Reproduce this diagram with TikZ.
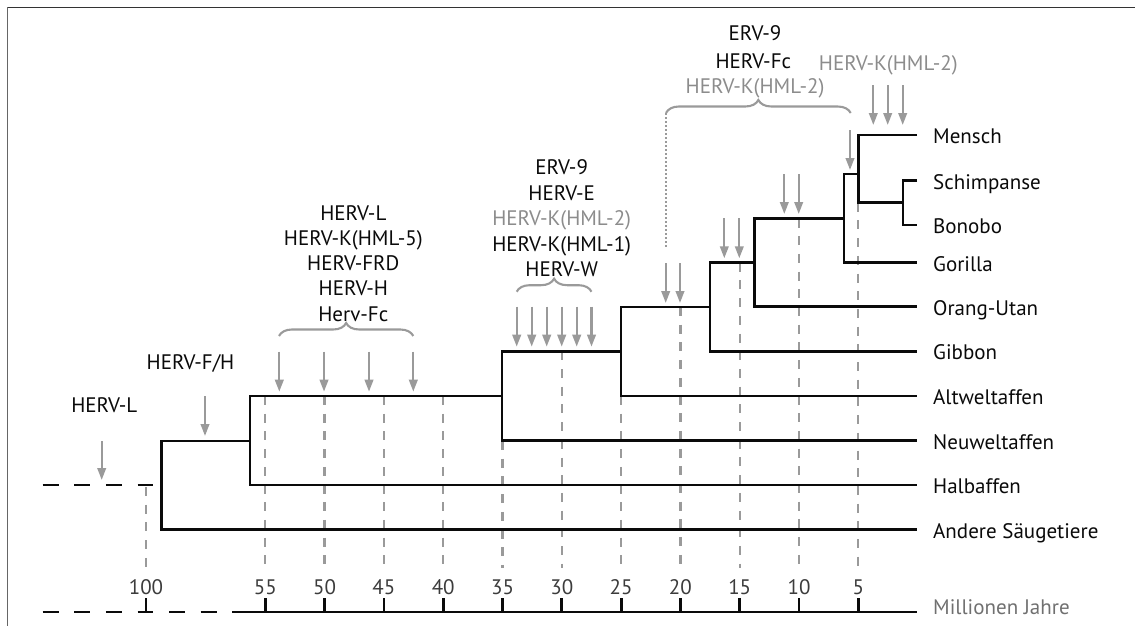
\documentclass[tikz,border=0pt]{standalone}
\usepackage{fontspec}
\setmainfont{PT Sans}
\usetikzlibrary{arrows.meta,decorations.pathreplacing}
\definecolor{arr}{HTML}{9A9A9A}
\definecolor{gtxt}{HTML}{8C8C8C}
\definecolor{ttxt}{HTML}{3C3C3C}
\definecolor{mtxt}{HTML}{707070}
\definecolor{blk}{HTML}{0A0A0A}
\begin{document}
\begin{tikzpicture}[x=1pt,y=-1pt,
  branch/.style={draw=blk,line width=2.8pt,line join=miter},
  stemline/.style={draw=blk,line width=2.8pt,dash pattern=on 15.8pt off 15.8pt},
  gridline/.style={draw=arr,line width=2.3pt,dash pattern=on 9pt off 8.7pt},
  garrow/.style={draw=arr,line width=2.3pt,-{Triangle[width=8.5pt,length=12pt]}},
  gbrace/.style={draw=arr,line width=2.1pt,decorate,decoration={brace,amplitude=13pt}},
  lbl/.style={inner sep=0pt,anchor=base,font=\fontsize{21}{25}\selectfont,text=blk},
  glbl/.style={lbl,text=gtxt},
  leaf/.style={lbl,anchor=base west},
  ticklbl/.style={lbl,text=ttxt}]
\useasboundingbox (0,0) rectangle (1135,626);
% frame
\draw[black!80,line width=1.4pt] (7.5,7.5) -- (1140,7.5);
\draw[black!60,line width=1.6pt] (7.5,7.5) -- (7.5,630);

% grid lines and axis
\foreach \t/\ytop in {55/396,50/396,45/396,40/396,35/441,30/351.3,25/396,20/307,15/262.7,10/218.5,5/202.7}{
  \pgfmathsetmacro{\xx}{858.3+(5-\t)*11.86}
  \coordinate (gt\t) at (\xx,\ytop);
  \coordinate (gb\t) at (\xx,568);
  \draw[gridline] (gt\t) -- (gb\t);
  \coordinate (ax\t) at (\xx,612);
  \coordinate (tk\t) at (\xx,598);
  \draw[draw=blk,line width=2.8pt] (ax\t) -- (tk\t);
  \node[ticklbl] (tl\t) at (\xx,594) {\t};
}
\coordinate (gt100) at (146,487);
\coordinate (gb100) at (146,568);
\draw[gridline] (gt100) -- (gb100);
\coordinate (ax100) at (146,612);
\coordinate (tk100) at (146,598);
\draw[draw=blk,line width=2.8pt] (ax100) -- (tk100);
\node[ticklbl] (tl100) at (146,594) {100};
\coordinate (axA) at (42.7,612);
\coordinate (axB) at (235,612);
\coordinate (axC) at (917,612);
\draw[stemline] (axA) -- (axB);
\draw[branch] (axB) -- (axC);
\node[leaf,text=mtxt] (mj) at (933,614.5) {Millionen Jahre};

% leaves
\coordinate (eMen) at (917,135);
\coordinate (eSch) at (917,180.7);
\coordinate (eBon) at (917,225);
\coordinate (eGor) at (917,262.7);
\coordinate (eOra) at (917,306.7);
\coordinate (eGib) at (917,351.3);
\coordinate (eAlt) at (917,396);
\coordinate (eNeu) at (917,440.7);
\coordinate (eHal) at (917,485);
\coordinate (eAnd) at (917,529.7);
\node[leaf] (lMen) at (933,143.5) {Mensch};
\node[leaf] (lSch) at (933,189) {Schimpanse};
\node[leaf] (lBon) at (933,233.5) {Bonobo};
\node[leaf] (lGor) at (933,271) {Gorilla};
\node[leaf] (lOra) at (933,315) {Orang-Utan};
\node[leaf] (lGib) at (933,359.5) {Gibbon};
\node[leaf] (lAlt) at (933,404) {Altweltaffen};
\node[leaf] (lNeu) at (933,449) {Neuweltaffen};
\node[leaf] (lHal) at (933,493.5) {Halbaffen};
\node[leaf] (lAnd) at (933,538) {Andere Säugetiere};

% internal nodes
\coordinate (cHC) at (903,202.7);
\coordinate (cH) at (858.5,174);
\coordinate (cG) at (844,218.5);
\coordinate (cO) at (754.5,262.7);
\coordinate (cGi) at (710,307);
\coordinate (c25) at (621,351.3);
\coordinate (c35) at (502,396);
\coordinate (c55) at (250,441);
\coordinate (c100) at (161.7,485);
\coordinate (sA) at (42.7,485);
\coordinate (sB) at (153.3,485);

\draw[branch] (eSch) -| (cHC) |- (eBon);
\draw[branch] (eMen) -| (cH) |- (cHC);
\draw[branch] (cH) -| (cG) |- (eGor);
\draw[branch] (cG) -| (cO) |- (eOra);
\draw[branch] (cO) -| (cGi) |- (eGib);
\draw[branch] (cGi) -| (c25) |- (eAlt);
\draw[branch] (c25) -| (c35) |- (eNeu);
\draw[branch] (c35) -| (c55) |- (eHal);
\draw[branch] (c55) -| (c100) |- (eAnd);
\draw[stemline] (sA) -- (sB);

% arrows
\foreach \x/\ya/\yb [count=\i] in {101.7/441/480, 205/396/436,
  279.3/351.7/391.7, 324/351.7/391.7, 369/351.7/391.7, 413.3/351.7/391.7,
  516.7/306.7/346.7, 531.7/306.7/346.7, 546.7/306.7/346.7, 561.7/306.7/346.7, 576.7/306.7/346.7, 591.5/306.7/346.7,
  665.7/263/303, 680/263/303,
  724.3/218.3/258.3, 739.3/218.3/258.3,
  784.3/174/214, 798.7/174/214,
  850/130/170,
  873.3/85/125, 887.7/85/125, 902.7/85/125}{
  \coordinate (as\i) at (\x,\ya);
  \coordinate (ae\i) at (\x,\yb);
  \draw[garrow] (as\i) -- (ae\i);
}

% braces
\coordinate (b55a) at (279,336);
\coordinate (b55b) at (413.3,336);
\draw[gbrace] (b55a) -- (b55b);
\coordinate (b35a) at (516.7,291.7);
\coordinate (b35b) at (591.5,291.7);
\draw[gbrace] (b35a) -- (b35b);
\coordinate (bTa) at (666,113);
\coordinate (bTb) at (850.7,113);
\coordinate (dotE) at (666,247);
\draw[gbrace] (bTa) -- (bTb);
\draw[draw=arr,line width=2.3pt,dash pattern=on 2pt off 2pt] (bTa) -- (dotE);

% labels
\node[lbl] (tL) at (104.3,412.5) {HERV-L};
\node[lbl] (tFH) at (190.5,369) {HERV-F/H};

\node[lbl] (g1) at (353.3,220.8) {HERV-L};
\node[lbl] (g2) at (353.3,245.8) {HERV-K(HML-5)};
\node[lbl] (g3) at (353.3,270.8) {HERV-FRD};
\node[lbl] (g4) at (353.3,295.8) {HERV-H};
\node[lbl] (g5) at (353.3,321.8) {Herv-Fc};

\node[lbl] (h1) at (561.7,174.2) {ERV-9};
\node[lbl] (h2) at (561.7,200.2) {HERV-E};
\node[glbl] (h3) at (561.7,225.8) {HERV-K(HML-2)};
\node[lbl] (h4) at (561.7,251.8) {HERV-K(HML-1)};
\node[lbl] (h5) at (561.7,276.8) {HERV-W};

\node[lbl] (k1) at (755,41) {ERV-9};
\node[lbl] (k2) at (753.3,68) {HERV-Fc};
\node[glbl] (k3) at (755,93.5) {HERV-K(HML-2)};
\node[glbl] (k4) at (888.3,70.5) {HERV-K(HML-2)};
\end{tikzpicture}
\end{document}
